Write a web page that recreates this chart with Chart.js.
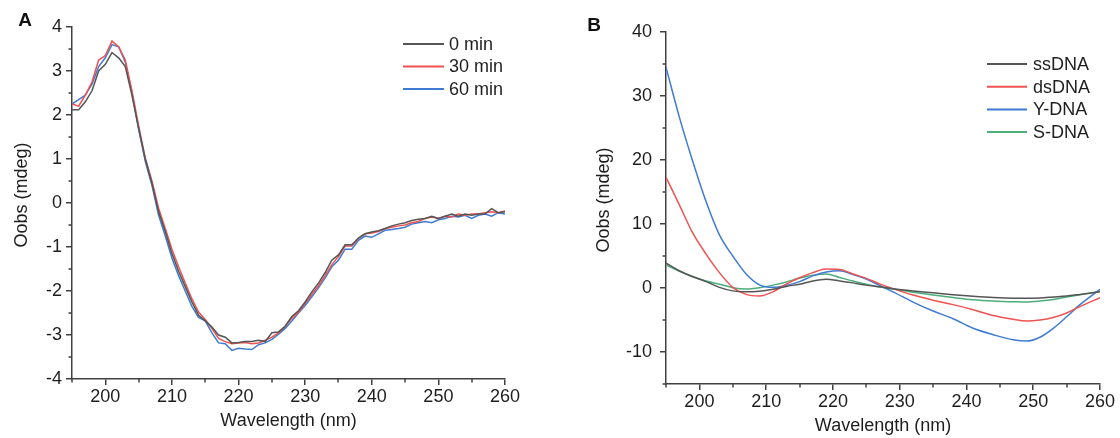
<!DOCTYPE html>
<html>
<head>
<meta charset="utf-8">
<script src="https://cdn.jsdelivr.net/npm/chart.js@4.4.0/dist/chart.umd.min.js"></script>
<style>
html,body{margin:0;padding:0;background:#fff;}
#wrap{position:relative;width:1120px;height:438px;overflow:hidden;}
canvas{position:absolute;top:0;}
#cA{left:0;}
#cB{left:560px;}
</style>
</head>
<body>
<div id="wrap">
<canvas id="cA" width="560" height="438" style="width:560px;height:438px"></canvas>
<canvas id="cB" width="560" height="438" style="width:560px;height:438px"></canvas>
</div>
<script>
// ---------------- Panel A data ----------------
const wavelengthA = [
  195,196,197,198,199,200,201,202,203,204,
  205,206,207,208,209,210,211,212,213,214,
  215,216,217,218,219,220,221,222,223,224,
  225,226,227,228,229,230,231,232,233,234,
  235,236,237,238,239,240,241,242,243,244,
  245,246,247,248,249,250,251,252,253,254,
  255,256,257,258,259,260
];
const min0 = [
  2.12, 2.12, 2.30, 2.55, 3.00, 3.15, 3.42, 3.30, 3.10, 2.45,
  1.70, 1.00, 0.45, -0.20, -0.65, -1.15, -1.55, -1.90, -2.25, -2.55,
  -2.68, -2.82, -3.00, -3.05, -3.18, -3.17, -3.15, -3.15, -3.12, -3.15,
  -2.95, -2.93, -2.80, -2.58, -2.45, -2.25, -2.02, -1.82, -1.58, -1.30,
  -1.18, -0.95, -0.95, -0.80, -0.70, -0.66, -0.63, -0.58, -0.52, -0.48,
  -0.45, -0.40, -0.37, -0.35, -0.30, -0.35, -0.30, -0.25, -0.30, -0.25,
  -0.28, -0.25, -0.25, -0.13, -0.22, -0.20
];
const min30 = [
  2.25, 2.20, 2.45, 2.75, 3.25, 3.35, 3.68, 3.55, 3.25, 2.55,
  1.75, 1.02, 0.50, -0.12, -0.58, -1.05, -1.45, -1.82, -2.18, -2.48,
  -2.65, -2.85, -3.08, -3.15, -3.20, -3.18, -3.17, -3.20, -3.18, -3.12,
  -3.05, -2.95, -2.80, -2.62, -2.48, -2.28, -2.08, -1.88, -1.65, -1.40,
  -1.22, -0.98, -0.98, -0.80, -0.70, -0.68, -0.65, -0.58, -0.55, -0.52,
  -0.50, -0.45, -0.42, -0.35, -0.32, -0.35, -0.30, -0.32, -0.25, -0.28,
  -0.25, -0.25, -0.22, -0.20, -0.22, -0.18
];
const min60 = [
  2.25, 2.35, 2.45, 2.70, 3.10, 3.30, 3.60, 3.55, 3.20, 2.50,
  1.68, 0.95, 0.40, -0.28, -0.75, -1.25, -1.65, -2.00, -2.35, -2.60,
  -2.68, -2.95, -3.18, -3.20, -3.35, -3.30, -3.32, -3.33, -3.22, -3.18,
  -3.10, -2.98, -2.85, -2.68, -2.50, -2.33, -2.13, -1.93, -1.70, -1.45,
  -1.30, -1.05, -1.05, -0.85, -0.75, -0.78, -0.70, -0.62, -0.60, -0.58,
  -0.55, -0.48, -0.45, -0.42, -0.45, -0.38, -0.35, -0.30, -0.32, -0.28,
  -0.35, -0.28, -0.25, -0.30, -0.22, -0.25
];
const xTicksA = [200, 210, 220, 230, 240, 250, 260];
const yTicksA = [-4, -3, -2, -1, 0, 1, 2, 3, 4];

// ---------------- Panel B data ----------------
const wavelengthB = [195,197,199,201,203,205,207,209,211,213,215,217,219,221,223,225,227,229,232,235,238,241,244,247,249,251,253,255,257,260];
const ssDNA = [3.9, 2.7, 1.75, 1.0, 0.1, -0.45, -0.6, -0.5, -0.2, 0.25, 0.6, 1.1, 1.35, 1.1, 0.8, 0.45, 0.2, -0.1, -0.45, -0.75, -1.05, -1.3, -1.5, -1.6, -1.6, -1.55, -1.4, -1.25, -1.0, -0.6];
const dsDNA = [17.3, 13.0, 8.6, 5.3, 2.4, 0.1, -1.0, -1.25, -0.6, 0.6, 1.6, 2.4, 2.95, 2.9, 2.2, 1.5, 0.65, -0.1, -1.1, -1.9, -2.6, -3.4, -4.3, -4.9, -5.15, -5.0, -4.6, -3.9, -2.9, -1.5];
const yDNA = [34.5, 26.7, 19.8, 13.5, 8.3, 5.0, 2.2, 0.5, 0.1, 0.4, 1.0, 1.9, 2.5, 2.7, 2.1, 1.4, 0.4, -0.6, -2.2, -3.6, -4.8, -6.3, -7.3, -8.1, -8.3, -7.7, -6.3, -4.5, -2.6, -0.2];
const sDNA = [3.6, 2.6, 1.8, 1.1, 0.6, 0.05, -0.15, 0.05, 0.45, 0.95, 1.55, 2.0, 2.2, 1.65, 1.1, 0.6, 0.15, -0.15, -0.65, -1.1, -1.5, -1.85, -2.05, -2.15, -2.2, -2.05, -1.8, -1.4, -1.05, -0.5];
const xTicksB = [200, 210, 220, 230, 240, 250, 260];
const yTicksB = [-10, 0, 10, 20, 30, 40];

const xMinorTicks = [195, 205, 215, 225, 235, 245, 255];
const yMinorTicksA = [-3.5, -2.5, -1.5, -0.5, 0.5, 1.5, 2.5, 3.5];
const yMinorTicksB = [-15, -5, 5, 15, 25, 35];

// ---------------- styling ----------------
const FONT = '"Liberation Sans", Arial, sans-serif';
const AXIS = '#404040';
const TEXT = '#1e1e1e';
const C_GRAY = '#555555';
const C_RED = '#f05252';
const C_BLUE = '#3f7bd3';
const C_GREEN = '#4cae7a';

const toXY = (xs, ys) => xs.map((x, i) => ({x: x, y: ys[i]}));

const decor = {
  id: 'decor',
  afterDraw(chart, args, o) {
    const ctx = chart.ctx;
    const ca = chart.chartArea;
    const xs = chart.scales.x, ys = chart.scales.y;
    const off = o.offsetX;
    ctx.save();
    // minor ticks
    ctx.strokeStyle = AXIS;
    ctx.lineWidth = 1.5;
    o.minorX.forEach(v => {
      const p = Math.round(xs.getPixelForValue(v));
      ctx.beginPath(); ctx.moveTo(p, ca.bottom); ctx.lineTo(p, ca.bottom + 3.5); ctx.stroke();
    });
    o.minorY.forEach(v => {
      const p = Math.round(ys.getPixelForValue(v));
      ctx.beginPath(); ctx.moveTo(ca.left, p); ctx.lineTo(ca.left - 3.5, p); ctx.stroke();
    });
    // panel letter
    ctx.fillStyle = '#111';
    ctx.font = 'bold 19px ' + FONT;
    ctx.textAlign = 'center';
    ctx.textBaseline = 'middle';
    ctx.fillText(o.letter, o.letterX - off, o.letterY);
    // axis titles
    ctx.fillStyle = TEXT;
    ctx.font = '18px ' + FONT;
    ctx.fillText(o.xTitle, (ca.left + ca.right) / 2, o.xTitleY);
    ctx.save();
    ctx.translate(o.yTitleX - off, o.yTitleY);
    ctx.rotate(-Math.PI / 2);
    ctx.fillText(o.yTitle, 0, 0);
    ctx.restore();
    // legend
    ctx.textAlign = 'left';
    chart.data.datasets.forEach((ds, i) => {
      const y = o.legY + i * o.legStep;
      ctx.strokeStyle = ds.borderColor;
      ctx.lineWidth = 2;
      ctx.beginPath(); ctx.moveTo(o.legX1 - off, y); ctx.lineTo(o.legX2 - off, y); ctx.stroke();
      ctx.fillStyle = TEXT;
      ctx.fillText(ds.label, o.legTextX - off, y + 1);
    });
    ctx.restore();
  }
};

function makeScales(p) {
  return {
    x: {
      type: 'linear', min: p.xmin, max: p.xmax,
      afterBuildTicks: s => { s.ticks = p.xTicks.map(v => ({value: v})); },
      afterFit: s => { s.height = p.xH; },
      grid: { display: true, drawOnChartArea: false, drawTicks: true, tickLength: 6, color: AXIS, lineWidth: 1.5 },
      border: { display: true, color: AXIS, width: 1.5 },
      ticks: { color: TEXT, font: { family: FONT, size: 18 }, padding: p.xPad, maxRotation: 0, autoSkip: false }
    },
    y: {
      type: 'linear', min: p.ymin, max: p.ymax,
      afterBuildTicks: s => { s.ticks = p.yTicks.map(v => ({value: v})); },
      afterFit: s => { s.width = p.yW; },
      grid: { display: true, drawOnChartArea: false, drawTicks: true, tickLength: 6, color: AXIS, lineWidth: 1.5 },
      border: { display: true, color: AXIS, width: 1.5 },
      ticks: { color: TEXT, font: { family: FONT, size: 18 }, padding: p.yPad, autoSkip: false }
    }
  };
}

function lineDs(label, xs, ys, color, smooth) {
  return {
    label: label, data: toXY(xs, ys), borderColor: color, backgroundColor: color,
    borderWidth: 1.5, pointRadius: 0, fill: false,
    tension: smooth ? 0.4 : 0, cubicInterpolationMode: smooth ? 'monotone' : 'default'
  };
}

new Chart(document.getElementById('cA'), {
  type: 'line',
  data: {
    datasets: [
      lineDs('0 min', wavelengthA, min0, C_GRAY, false),
      lineDs('30 min', wavelengthA, min30, C_RED, false),
      lineDs('60 min', wavelengthA, min60, C_BLUE, false)
    ]
  },
  options: {
    responsive: false, animation: false, devicePixelRatio: 1,
    layout: { padding: { left: 0, right: 55, top: 27, bottom: 0 } },
    scales: makeScales({ xmin: 195, xmax: 260, xTicks: xTicksA, xH: 59, xPad: 1,
                         ymin: -4, ymax: 4, yTicks: yTicksA, yW: 72, yPad: 4 }),
    plugins: {
      legend: { display: false }, tooltip: { enabled: false },
      decor: { offsetX: 0, minorX: xMinorTicks, minorY: yMinorTicksA,
               letter: 'A', letterX: 25, letterY: 21,
               xTitle: 'Wavelength (nm)', xTitleY: 421,
               yTitle: 'Oobs (mdeg)', yTitleX: 22, yTitleY: 195,
               legX1: 403, legX2: 444, legTextX: 449, legY: 44, legStep: 22.5 }
    }
  },
  plugins: [decor]
});

new Chart(document.getElementById('cB'), {
  type: 'line',
  data: {
    datasets: [
      lineDs('ssDNA', wavelengthB, ssDNA, C_GRAY, true),
      lineDs('dsDNA', wavelengthB, dsDNA, C_RED, true),
      lineDs('Y-DNA', wavelengthB, yDNA, C_BLUE, true),
      lineDs('S-DNA', wavelengthB, sDNA, C_GREEN, true)
    ]
  },
  options: {
    responsive: false, animation: false, devicePixelRatio: 1,
    layout: { padding: { left: 0, right: 20, top: 32, bottom: 0 } },
    scales: makeScales({ xmin: 195, xmax: 260, xTicks: xTicksB, xH: 54, xPad: 1,
                         ymin: -15, ymax: 40, yTicks: yTicksB, yW: 106, yPad: 8 }),
    plugins: {
      legend: { display: false }, tooltip: { enabled: false },
      decor: { offsetX: 560, minorX: xMinorTicks, minorY: yMinorTicksB,
               letter: 'B', letterX: 594, letterY: 26,
               xTitle: 'Wavelength (nm)', xTitleY: 426,
               yTitle: 'Oobs (mdeg)', yTitleX: 604, yTitleY: 200,
               legX1: 987, legX2: 1027, legTextX: 1033, legY: 64, legStep: 22.7 }
    }
  },
  plugins: [decor]
});
</script>
</body>
</html>
